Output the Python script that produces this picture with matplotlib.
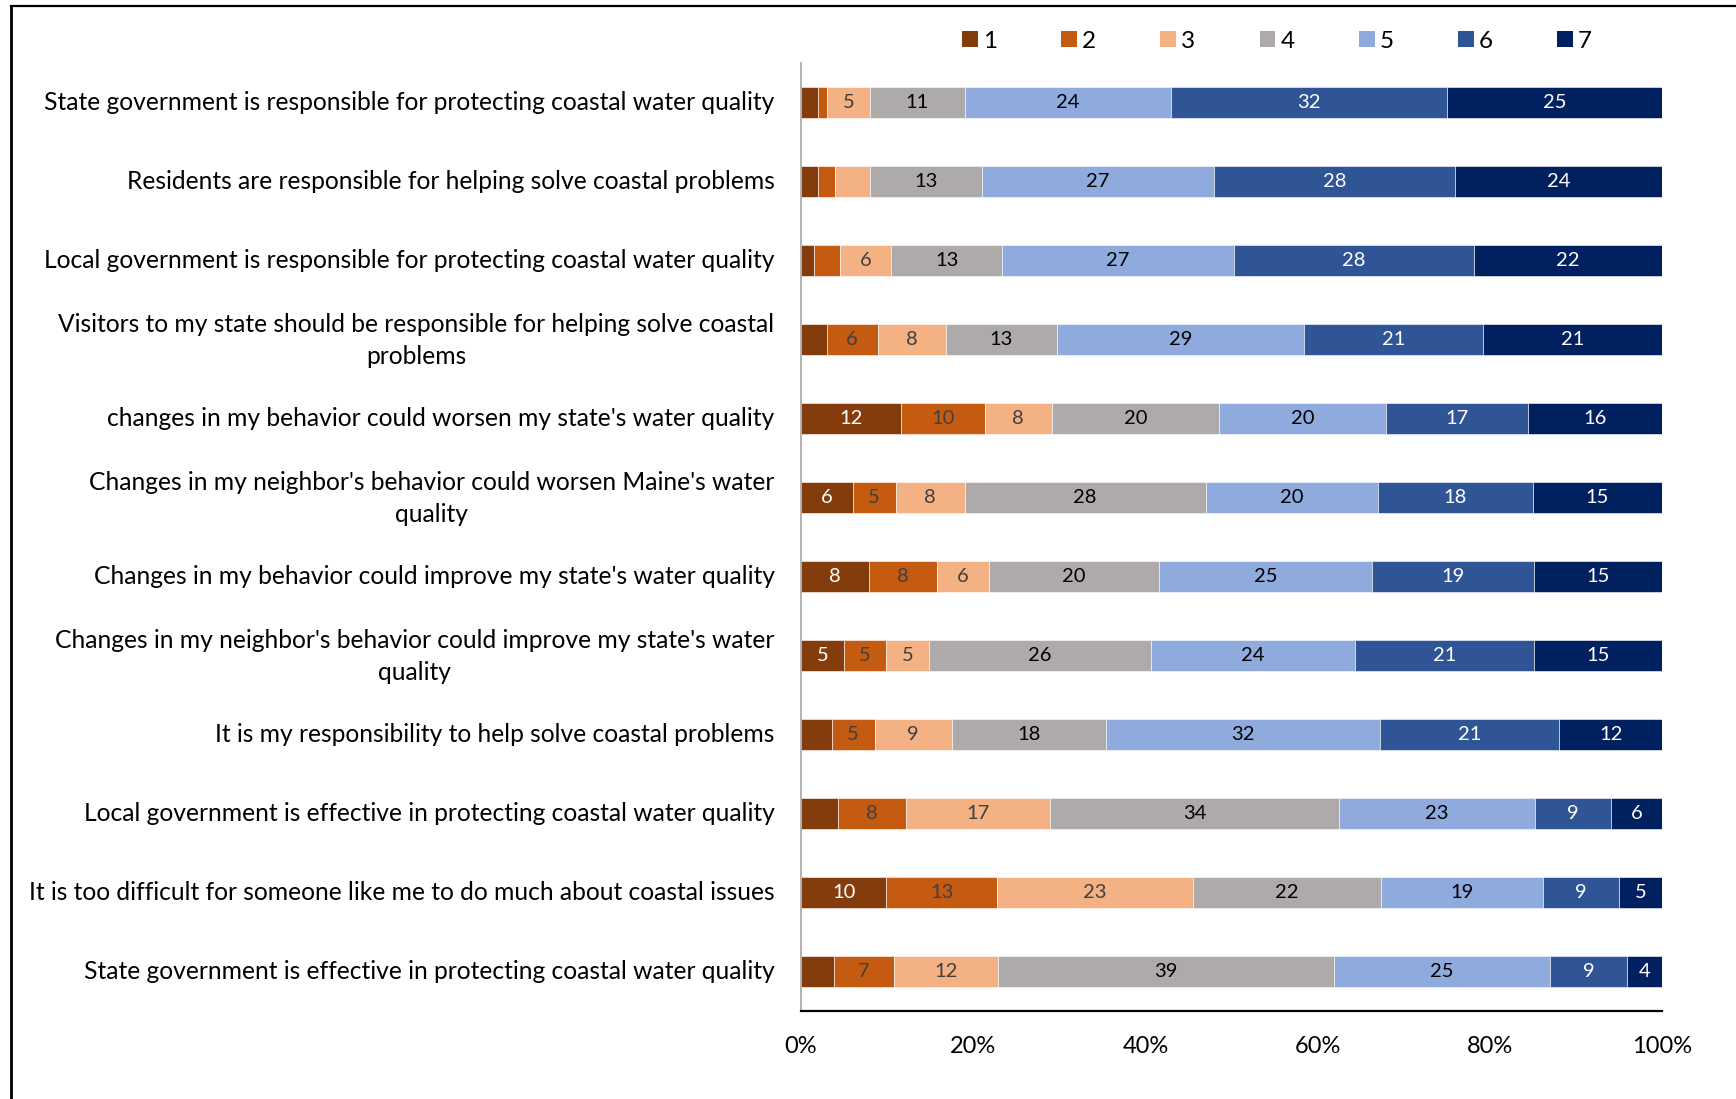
import matplotlib
matplotlib.use("Agg")
import matplotlib.pyplot as plt
from matplotlib.patches import Patch
from matplotlib.lines import Line2D
from matplotlib.transforms import ScaledTranslation
import numpy as np

plt.rcParams['font.family'] = ['Lato', 'DejaVu Sans']

statements = [
    "State government is responsible for protecting coastal water quality",
    "Residents are responsible for helping solve coastal problems",
    "Local government is responsible for protecting coastal water quality",
    "Visitors to my state should be responsible for helping solve coastal\nproblems",
    "changes in my behavior could worsen my state's water quality",
    "Changes in my neighbor's behavior could worsen Maine's water\nquality",
    "Changes in my behavior could improve my state's water quality",
    "Changes in my neighbor's behavior could improve my state's water\nquality",
    "It is my responsibility to help solve coastal problems",
    "Local government is effective in protecting coastal water quality",
    "It is too difficult for someone like me to do much about coastal issues",
    "State government is effective in protecting coastal water quality",
]

scale_points = ["1", "2", "3", "4", "5", "6", "7"]

# Percent of respondents choosing each scale point (1 = strongly disagree ... 7 = strongly agree)
r1 = [2, 1, 5, 11, 24, 32, 25]
r2 = [2, 2, 4, 13, 27, 28, 24]
r3 = [1.5, 3, 6, 13, 27, 28, 22]
r4 = [3, 6, 8, 13, 29, 21, 21]
r5 = [12, 10, 8, 20, 20, 17, 16]
r6 = [6, 5, 8, 28, 20, 18, 15]
r7 = [8, 8, 6, 20, 25, 19, 15]
r8 = [5, 5, 5, 26, 24, 21, 15]
r9 = [3.6, 5, 9, 18, 32, 21, 12]
r10 = [4.3, 8, 17, 34, 23, 9, 6]
r11 = [10, 13, 23, 22, 19, 9, 5]
r12 = [3.8, 7, 12, 39, 25, 9, 4]

rows = [r1, r2, r3, r4, r5, r6, r7, r8, r9, r10, r11, r12]

colors = ["#843C0C", "#C55A11", "#F4B183", "#AEAAAA", "#8FAADC", "#2F5597", "#002060"]
text_colors = ["white", "#404040", "#404040", "black", "black", "white", "white"]

W, H = 1736, 1099
fig = plt.figure(figsize=(W / 100, H / 100), dpi=100)
ax = fig.add_axes([801 / W, 1 - 1011 / H, (1662 - 801) / W, (1011 - 63) / H])

vals = np.array(rows, dtype=float)
shares = vals / vals.sum(axis=1, keepdims=True)
y = np.arange(len(statements))
left = np.zeros(len(statements))
for j in range(len(scale_points)):
    ax.barh(y, shares[:, j], left=left, height=0.39, color=colors[j],
            edgecolor="white", linewidth=0.4, label=scale_points[j], zorder=2)
    for i in range(len(statements)):
        v = vals[i, j]
        if v >= 5 or (j == 6 and v >= 4):
            ax.text(left[i] + shares[i, j] / 2, y[i], f"{v:g}", ha="center", va="center",
                    fontsize=14.5, color=text_colors[j], zorder=3)
    left += shares[:, j]

ax.set_xlim(0, 1)
ax.set_ylim(len(statements) - 0.5, -0.5)
ax.set_yticks(y)
ax.set_yticklabels(statements, fontsize=17.7, multialignment="center", linespacing=1.5)
ax.tick_params(axis="y", length=0, pad=19)
for lbl in ax.get_yticklabels():
    dy = 6 if "\n" in lbl.get_text() else 2.5
    lbl.set_transform(lbl.get_transform() + ScaledTranslation(0, dy / 100, fig.dpi_scale_trans))
ax.set_xticks(np.linspace(0, 1, 6))
ax.set_xticklabels([f"{int(t)}%" for t in np.linspace(0, 100, 6)], fontsize=17)
ax.tick_params(axis="x", length=0, pad=18)

for s in ["top", "right"]:
    ax.spines[s].set_visible(False)
ax.spines["left"].set_color("#A6A6A6")
ax.spines["left"].set_linewidth(1.2)
ax.spines["bottom"].set_color("black")
ax.spines["bottom"].set_linewidth(1.6)

handles = [Patch(facecolor=c, edgecolor="none") for c in colors]
fig.legend(handles, scale_points, loc="center left", bbox_to_anchor=(962 / W, 1 - 41 / H),
           ncol=7, frameon=False, fontsize=17.5, handlelength=0.65, handleheight=0.65,
           handletextpad=0.2, columnspacing=2.65, borderaxespad=0, borderpad=0)

# Frame lines along the left and top edges of the figure
fig.add_artist(Line2D([11 / W, 11 / W], [0, 1 - 6 / H], color="black", linewidth=2))
fig.add_artist(Line2D([11 / W, 1], [1 - 6 / H, 1 - 6 / H], color="black", linewidth=1.6))

fig.savefig("out.png", dpi=100, facecolor="white")
